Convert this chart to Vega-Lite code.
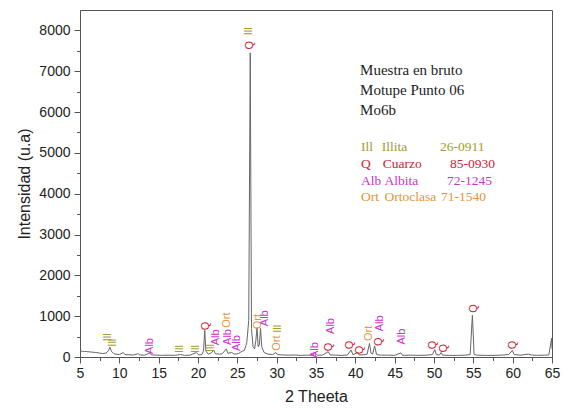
{
  "$schema": "https://vega.github.io/schema/vega-lite/v6.json",
  "width": 472,
  "height": 347,
  "autosize": "none",
  "padding": {"left": 80, "top": 10, "right": 11, "bottom": 51},
  "config": {
    "view": {"stroke": "#555555", "strokeWidth": 1},
    "font": "Liberation Sans",
    "axis": {
      "grid": false,
      "domainColor": "#555555",
      "tickColor": "#555555",
      "labelColor": "#222222",
      "titleColor": "#222222",
      "labelFont": "Liberation Sans",
      "titleFont": "Liberation Sans",
      "labelFontSize": 14,
      "titleFontSize": 16,
      "titleFontWeight": "normal"
    }
  },
  "datasets": {
    "xrd": [
      {"t": 5.0, "i": 150}, {"t": 5.3, "i": 140}, {"t": 5.6, "i": 135}, {"t": 6.0, "i": 130},
      {"t": 6.5, "i": 120}, {"t": 7.0, "i": 110}, {"t": 7.5, "i": 95}, {"t": 7.9, "i": 85},
      {"t": 8.3, "i": 95}, {"t": 8.6, "i": 150}, {"t": 8.8, "i": 240}, {"t": 9.0, "i": 140},
      {"t": 9.3, "i": 80}, {"t": 9.7, "i": 65}, {"t": 10.0, "i": 60}, {"t": 10.5, "i": 110},
      {"t": 10.7, "i": 60}, {"t": 11.2, "i": 55}, {"t": 11.8, "i": 50}, {"t": 12.4, "i": 80},
      {"t": 12.6, "i": 50}, {"t": 13.2, "i": 45}, {"t": 13.9, "i": 100}, {"t": 14.1, "i": 50},
      {"t": 14.8, "i": 45}, {"t": 15.5, "i": 40}, {"t": 16.2, "i": 45}, {"t": 17.0, "i": 40},
      {"t": 17.8, "i": 60}, {"t": 18.3, "i": 40}, {"t": 19.0, "i": 45}, {"t": 19.8, "i": 110},
      {"t": 20.1, "i": 50}, {"t": 20.5, "i": 60}, {"t": 20.7, "i": 150}, {"t": 20.86, "i": 650},
      {"t": 21.0, "i": 150}, {"t": 21.3, "i": 70}, {"t": 21.7, "i": 100}, {"t": 22.0, "i": 170},
      {"t": 22.2, "i": 80}, {"t": 22.7, "i": 70}, {"t": 23.1, "i": 80}, {"t": 23.6, "i": 200},
      {"t": 23.8, "i": 90}, {"t": 24.3, "i": 110}, {"t": 24.6, "i": 70}, {"t": 25.1, "i": 80},
      {"t": 25.6, "i": 140}, {"t": 25.9, "i": 160}, {"t": 26.2, "i": 350}, {"t": 26.45, "i": 900},
      {"t": 26.64, "i": 7450}, {"t": 26.8, "i": 700}, {"t": 27.0, "i": 250}, {"t": 27.2, "i": 200},
      {"t": 27.35, "i": 400}, {"t": 27.5, "i": 720}, {"t": 27.65, "i": 250}, {"t": 27.8, "i": 300},
      {"t": 27.95, "i": 700}, {"t": 28.1, "i": 250}, {"t": 28.4, "i": 110}, {"t": 28.9, "i": 70},
      {"t": 29.5, "i": 60}, {"t": 29.9, "i": 110}, {"t": 30.1, "i": 60}, {"t": 30.8, "i": 50},
      {"t": 31.5, "i": 45}, {"t": 32.3, "i": 50}, {"t": 33.0, "i": 40}, {"t": 33.8, "i": 45},
      {"t": 34.5, "i": 45}, {"t": 34.9, "i": 90}, {"t": 35.2, "i": 45}, {"t": 35.8, "i": 45},
      {"t": 36.55, "i": 130}, {"t": 36.8, "i": 50}, {"t": 37.5, "i": 45}, {"t": 38.3, "i": 40},
      {"t": 39.0, "i": 50}, {"t": 39.45, "i": 170}, {"t": 39.7, "i": 55}, {"t": 40.3, "i": 110},
      {"t": 40.5, "i": 50}, {"t": 41.0, "i": 55}, {"t": 41.5, "i": 70}, {"t": 41.8, "i": 330},
      {"t": 42.0, "i": 90}, {"t": 42.2, "i": 70}, {"t": 42.45, "i": 270}, {"t": 42.7, "i": 60},
      {"t": 43.3, "i": 45}, {"t": 44.2, "i": 45}, {"t": 45.0, "i": 40}, {"t": 45.8, "i": 100},
      {"t": 46.0, "i": 40}, {"t": 47.0, "i": 45}, {"t": 48.0, "i": 40}, {"t": 49.0, "i": 45},
      {"t": 49.8, "i": 60}, {"t": 50.1, "i": 180}, {"t": 50.3, "i": 55}, {"t": 50.7, "i": 50},
      {"t": 50.9, "i": 110}, {"t": 51.1, "i": 45}, {"t": 52.0, "i": 40}, {"t": 53.0, "i": 40},
      {"t": 54.0, "i": 45}, {"t": 54.6, "i": 60}, {"t": 54.88, "i": 1020}, {"t": 55.1, "i": 60},
      {"t": 55.5, "i": 45}, {"t": 56.5, "i": 40}, {"t": 57.5, "i": 40}, {"t": 58.5, "i": 45},
      {"t": 59.5, "i": 60}, {"t": 59.95, "i": 160}, {"t": 60.2, "i": 60}, {"t": 61.0, "i": 45},
      {"t": 62.0, "i": 70}, {"t": 62.4, "i": 50}, {"t": 63.0, "i": 40}, {"t": 64.0, "i": 45},
      {"t": 64.6, "i": 50}, {"t": 64.95, "i": 460}, {"t": 65.0, "i": 200}
    ],
    "labels": [
      {"t": 8.55, "i": 480, "txt": "Ill", "m": "Ill"},
      {"t": 9.15, "i": 350, "txt": "Ill", "m": "Ill"},
      {"t": 13.9, "i": 270, "txt": "Alb", "m": "Alb"},
      {"t": 17.7, "i": 195, "txt": "Ill", "m": "Ill"},
      {"t": 19.7, "i": 195, "txt": "Ill", "m": "Ill"},
      {"t": 21.0, "i": 760, "txt": "Q", "m": "Q"},
      {"t": 21.65, "i": 220, "txt": "Ill", "m": "Ill"},
      {"t": 22.3, "i": 480, "txt": "Alb", "m": "Alb"},
      {"t": 23.65, "i": 905, "txt": "Ort", "m": "Ort"},
      {"t": 23.8, "i": 490, "txt": "Alb", "m": "Alb"},
      {"t": 24.9, "i": 340, "txt": "Alb", "m": "Alb"},
      {"t": 26.52, "i": 7980, "txt": "Ill", "m": "Ill"},
      {"t": 26.61, "i": 7636, "txt": "Q", "m": "Q"},
      {"t": 27.66, "i": 865, "txt": "Ort", "m": "Ort"},
      {"t": 28.48, "i": 950, "txt": "Alb", "m": "Alb"},
      {"t": 30.04, "i": 340, "txt": "Ort", "m": "Ort"},
      {"t": 30.13, "i": 690, "txt": "Ill", "m": "Ill"},
      {"t": 34.87, "i": 170, "txt": "Alb", "m": "Alb"},
      {"t": 36.69, "i": 245, "txt": "Q", "m": "Q"},
      {"t": 36.9, "i": 760, "txt": "Alb", "m": "Alb"},
      {"t": 39.32, "i": 295, "txt": "Q", "m": "Q"},
      {"t": 40.6, "i": 170, "txt": "Q", "m": "Q"},
      {"t": 41.74, "i": 580, "txt": "Ort", "m": "Ort"},
      {"t": 43.05, "i": 375, "txt": "Q", "m": "Q"},
      {"t": 43.13, "i": 825, "txt": "Alb", "m": "Alb"},
      {"t": 45.89, "i": 500, "txt": "Alb", "m": "Alb"},
      {"t": 49.91, "i": 295, "txt": "Q", "m": "Q"},
      {"t": 51.27, "i": 213, "txt": "Q", "m": "Q"},
      {"t": 55.12, "i": 1190, "txt": "Q", "m": "Q"},
      {"t": 60.0, "i": 295, "txt": "Q", "m": "Q"}
    ],
    "header": [
      {"t": 40.6, "i": 7024, "txt": "Muestra en bruto"},
      {"t": 40.6, "i": 6535, "txt": "Motupe Punto 06"},
      {"t": 40.6, "i": 6045, "txt": "Mo6b"}
    ],
    "legend": [
      {"t": 40.72, "i": 5140, "txt": "Ill", "m": "Ill"},
      {"t": 43.35, "i": 5140, "txt": "Illita", "m": "Ill"},
      {"t": 50.76, "i": 5140, "txt": "26-0911", "m": "Ill"},
      {"t": 40.72, "i": 4723, "txt": "Q", "m": "Q"},
      {"t": 43.48, "i": 4723, "txt": "Cuarzo", "m": "Q"},
      {"t": 52.03, "i": 4723, "txt": "85-0930", "m": "Q"},
      {"t": 40.72, "i": 4307, "txt": "Alb", "m": "Alb"},
      {"t": 43.7, "i": 4307, "txt": "Albita", "m": "Alb"},
      {"t": 51.65, "i": 4307, "txt": "72-1245", "m": "Alb"},
      {"t": 40.72, "i": 3916, "txt": "Ort", "m": "Ort"},
      {"t": 43.7, "i": 3916, "txt": "Ortoclasa", "m": "Ort"},
      {"t": 50.9, "i": 3916, "txt": "71-1540", "m": "Ort"}
    ]
  },
  "encoding": {
    "x": {
      "field": "t", "type": "quantitative",
      "scale": {"domain": [5, 65], "nice": false, "zero": false},
      "axis": {
        "title": "2 Theeta",
        "values": [5, 7.5, 10, 12.5, 15, 17.5, 20, 22.5, 25, 27.5, 30, 32.5, 35, 37.5, 40, 42.5, 45, 47.5, 50, 52.5, 55, 57.5, 60, 62.5, 65],
        "labelExpr": "datum.value % 5 === 0 ? datum.label : ''",
        "tickSize": {"condition": {"test": "datum.value % 5 === 0", "value": 6}, "value": 3.5},
        "labelPadding": 3,
        "titlePadding": 8,
        "labelFlush": false
      }
    },
    "y": {
      "field": "i", "type": "quantitative",
      "scale": {"domain": [0, 8500], "nice": false},
      "axis": {
        "title": "Intensidad (u.a)",
        "values": [0, 500, 1000, 1500, 2000, 2500, 3000, 3500, 4000, 4500, 5000, 5500, 6000, 6500, 7000, 7500, 8000],
        "format": "d",
        "labelExpr": "datum.value % 1000 === 0 ? datum.label : ''",
        "tickSize": {"condition": {"test": "datum.value % 1000 === 0", "value": 6}, "value": 3.5},
        "labelPadding": 4,
        "titlePadding": 6
      }
    }
  },
  "layer": [
    {
      "data": {"name": "xrd"},
      "mark": {"type": "line", "color": "#666666", "strokeWidth": 1, "clip": true}
    },
    {
      "data": {"name": "labels"},
      "mark": {"type": "text", "angle": 270, "fontSize": 11, "font": "Liberation Sans", "align": "center", "baseline": "middle"},
      "encoding": {
        "text": {"field": "txt"},
        "color": {
          "field": "m", "type": "nominal",
          "scale": {"domain": ["Ill", "Q", "Alb", "Ort"], "range": ["#a39c2c", "#cc2233", "#cc33cc", "#e0963a"]},
          "legend": null
        }
      }
    },
    {
      "data": {"name": "header"},
      "mark": {"type": "text", "fontSize": 15, "font": "Liberation Serif", "align": "left", "baseline": "middle", "color": "#222222"},
      "encoding": {"text": {"field": "txt"}}
    },
    {
      "data": {"name": "legend"},
      "mark": {"type": "text", "fontSize": 13.5, "font": "Liberation Serif", "align": "left", "baseline": "middle"},
      "encoding": {
        "text": {"field": "txt"},
        "color": {"field": "m", "type": "nominal", "legend": null}
      }
    }
  ]
}
